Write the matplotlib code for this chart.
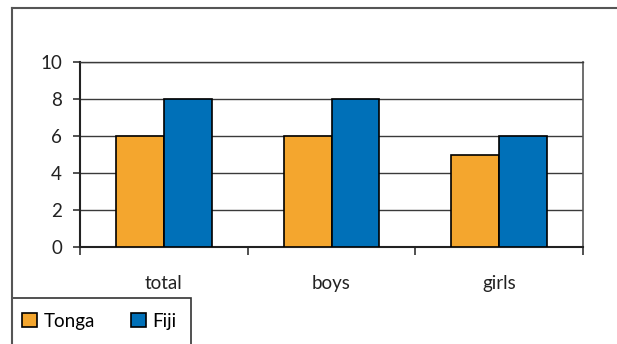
import matplotlib
matplotlib.use("Agg")
import matplotlib.pyplot as plt
from matplotlib.lines import Line2D
from matplotlib.patches import Rectangle
import numpy as np

categories = ["total", "boys", "girls"]
tonga = [6, 6, 5]
fiji = [8, 8, 6]
series_names = ["Tonga", "Fiji"]
y_ticks = [0, 2, 4, 6, 8, 10]

orange = "#F4A62E"
blue = "#0070B8"
grid_col = "#3a3a3a"

plt.rcParams["font.family"] = ["Lato", "DejaVu Sans"]
fs = 13.5

W, H = 617, 344
fig = plt.figure(figsize=(W / 100, H / 100), dpi=100)

ax = fig.add_axes([80 / W, 1 - 247 / H, (583 - 80) / W, (247 - 62) / H])

x = np.arange(len(categories))
bw = 0.286
b1 = ax.bar(x - bw / 2, tonga, bw, color=orange, edgecolor="black", linewidth=1.2, zorder=3)
b2 = ax.bar(x + bw / 2, fiji, bw, color=blue, edgecolor="black", linewidth=1.2, zorder=3)

ax.set_xlim(-0.5, 2.5)
ax.set_ylim(0, 10)
ax.set_yticks(y_ticks)
ax.set_yticklabels([str(v) for v in y_ticks], fontsize=fs, color="#222222")
ax.tick_params(axis="y", length=5, width=1.2, pad=8, color="#333333")

ax.set_xticks(x)
ax.set_xticklabels(categories, fontsize=fs, color="#222222")
ax.tick_params(axis="x", which="major", length=0, pad=20)
ax.set_xticks(np.arange(-0.5, 3.0, 1.0), minor=True)
ax.tick_params(axis="x", which="minor", length=6, width=1.2, color="#333333")

ax.yaxis.grid(True, color=grid_col, linewidth=1.0, zorder=0)
ax.set_axisbelow(True)

for s in ["left", "bottom"]:
    ax.spines[s].set_color("#222222")
    ax.spines[s].set_linewidth(1.5)
ax.spines["right"].set_color("#555555")
ax.spines["right"].set_linewidth(1.2)
ax.spines["top"].set_color(grid_col)
ax.spines["top"].set_linewidth(1.0)

# outer frame: top and left edges
fig.add_artist(Line2D([12 / W, 1.0], [1 - 7.5 / H, 1 - 7.5 / H], color="#555555", linewidth=1.5))
fig.add_artist(Line2D([12 / W, 12 / W], [0, 1 - 7.5 / H], color="#555555", linewidth=1.5))

# legend box
fig.add_artist(Rectangle((12 / W, -0.05), (191 - 12) / W, (0.05 + 1 - 298 / H),
                         fill=False, edgecolor="#333333", linewidth=1.2))
fig.legend([b1, b2], series_names, loc="center left",
           bbox_to_anchor=(22 / W, 1 - 321 / H), ncol=2, frameon=False,
           fontsize=fs, handlelength=0.8, handleheight=0.8, handletextpad=0.35,
           columnspacing=1.9, borderaxespad=0, borderpad=0)

fig.savefig("out.png", dpi=100)
